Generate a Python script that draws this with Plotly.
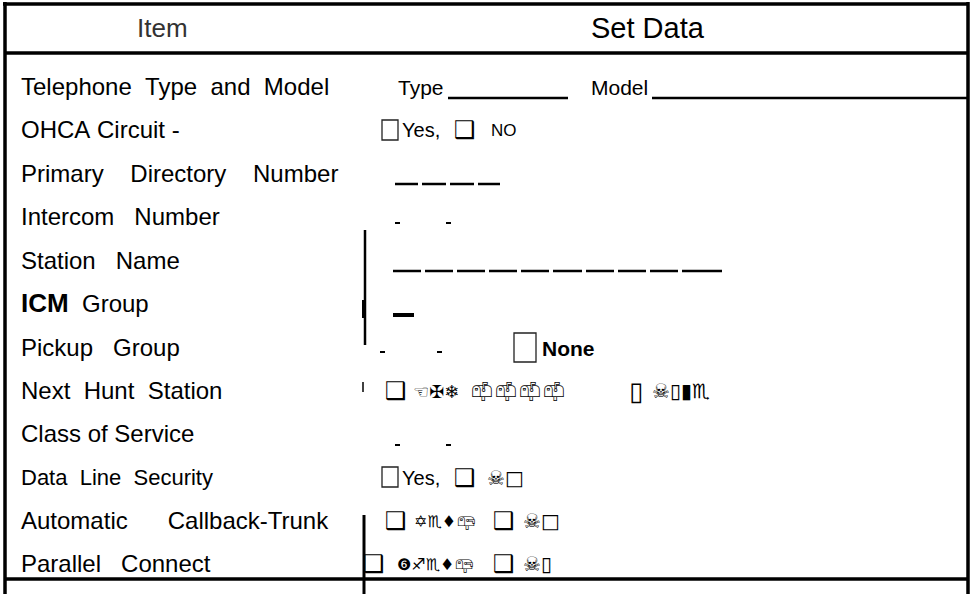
import plotly.graph_objects as go

W, H = 971, 594
NB = "\u00a0"

def gap(n):
    return NB * n

# ---- data (form content) ----
header_labels = ["Item", "Set Data"]
item_words = [
    (["Telephone", "Type", "and", "Model"], [2, 2, 2]),
    (["OHCA", "Circuit", "-"], [1, 1]),
    (["Primary", "Directory", "Number"], [4, 4]),
    (["Intercom", "Number"], [3]),
    (["Station", "Name"], [3]),
    (["<b><span style='font-size:26px'>ICM</span></b>", "Group"], [2]),
    (["Pickup", "Group"], [3]),
    (["Next", "Hunt", "Station"], [2, 2]),
    (["Class", "of", "Service"], [1, 1]),
    (["Data", "Line", "Security"], [2, 2]),
    (["Automatic", "Callback-Trunk"], [6]),
    (["Parallel", "Connect"], [3]),
]
row_sizes = [24, 24, 24, 24, 24, 24, 24, 24, 24, 22, 24, 24]
row_y = [86, 129, 173, 216, 260, 303, 347, 390, 433, 477, 520, 563]

# set-data texts: (row index, x, text, font size)
set_texts = [
    (0, 396, "Type", 21),
    (0, 589, "Model", 21),
    (1, 400, "Yes,", 20),
    (1, 452, "\u2751", 24),
    (1, 489, "NO", 17),
    (6, 540, "<b>None</b>", 21),
    (7, 383, "\u2751", 24),
    (7, 411, "\u261c\u2720\u2744", 18),
    (7, 468, "\U0001F4EB\uFE0E\U0001F4EB\uFE0E\U0001F4EB\uFE0E\U0001F4EB\uFE0E", 19),
    (7, 627, "\u25af", 26),
    (7, 650, "\u2620\u25af\u25ae\u264f", 20),
    (9, 400, "Yes,", 20),
    (9, 452, "\u2751", 24),
    (9, 485, "\u2620\u25a1", 20),
    (10, 383, "\u2751", 24),
    (10, 412, "\u2721\u264f\u2666\U0001F4EA\uFE0E", 16),
    (10, 491, "\u2751", 24),
    (10, 521, "\u2620\u25a1", 20),
    (11, 361, "\u2751", 24),
    (11, 395, "\u277b\u2650\u264f\u2666\U0001F4EA\uFE0E", 16),
    (11, 491, "\u2751", 24),
    (11, 521, "\u2620\u25af", 20),
]

# check boxes: (row index, x0, x1, y0, y1)
check_boxes = [(1, 382, 398, 120, 140), (6, 514, 536, 333, 362), (9, 382, 398, 467, 487)]

# underline / dash segments: (y, x0, x1, width)
dash_segments = [
    (98, 448, 568, 2.5), (98, 652, 968, 2.5),
    (184, 395, 418, 2.5), (184, 422, 446, 2.5), (184, 450, 474, 2.5), (184, 478, 500, 2.5),
    (223, 395, 400, 2), (223, 446, 451, 2),
    (271, 393, 421, 2.5), (271, 425, 453, 2.5), (271, 457, 485, 2.5), (271, 489, 517, 2.5),
    (271, 521, 549, 2.5), (271, 553, 582, 2.5), (271, 586, 614, 2.5), (271, 618, 646, 2.5),
    (271, 650, 678, 2.5), (271, 682, 722, 2.5),
    (315, 393, 414, 4),
    (352, 380, 385, 2), (352, 437, 442, 2),
    (445, 395, 400, 2), (445, 446, 451, 2),
]

# ---- figure ----
fig = go.Figure()
shapes = []

def line(x0, y0, x1, y1, w=3.5):
    shapes.append(dict(type="line", x0=x0, y0=y0, x1=x1, y1=y1, xref="x", yref="y",
                       line=dict(color="black", width=w)))

# outer frame
line(3, 4, 968, 4)
line(5, 2, 5, 594)
line(968, 2, 968, 594)
line(5, 53, 968, 53)
line(5, 579, 968, 579)
# partial vertical lines of the scanned form
line(365, 230, 365, 345, 2.5)
line(364, 300, 364, 318, 4)
line(363, 382, 363, 392, 1.5)
line(364, 515, 364, 594, 3)

for (y, x0, x1, w) in dash_segments:
    line(x0, y, x1, y, w)

for (r, x0, x1, y0, y1) in check_boxes:
    shapes.append(dict(type="rect", x0=x0, x1=x1, y0=y0, y1=y1, xref="x", yref="y",
                       line=dict(color="#222", width=1.3)))

annotations = []
body_font = "Liberation Sans, Arial, Helvetica, sans-serif"
sym_font = "DejaVu Sans, Noto Sans, sans-serif"

annotations.append(dict(x=162, y=28, text=header_labels[0], showarrow=False,
                        xanchor="center", yanchor="middle",
                        font=dict(family=body_font, size=26, color="#333")))
annotations.append(dict(x=648, y=28, text=header_labels[1], showarrow=False,
                        xanchor="center", yanchor="middle",
                        font=dict(family=body_font, size=29, color="black")))

for (words, gaps), y, s in zip(item_words, row_y, row_sizes):
    txt = words[0]
    for w, g in zip(words[1:], gaps):
        txt += gap(g) + w
    annotations.append(dict(x=19, y=y, text=txt, showarrow=False, xanchor="left",
                            yanchor="middle", font=dict(family=body_font, size=s, color="black")))

for (r, x, t, s) in set_texts:
    fam = sym_font if any(ord(c) > 0x2000 for c in t) else body_font
    annotations.append(dict(x=x, y=row_y[r] + 1, text=t, showarrow=False, xanchor="left",
                            yanchor="middle", font=dict(family=fam, size=s, color="black")))

fig.update_layout(
    width=W, height=H,
    margin=dict(l=0, r=0, t=0, b=0),
    paper_bgcolor="white", plot_bgcolor="white",
    xaxis=dict(range=[0, W], visible=False, fixedrange=True),
    yaxis=dict(range=[H, 0], visible=False, fixedrange=True),
    shapes=shapes, annotations=annotations, showlegend=False,
)

fig.write_html("out.html", config={"displayModeBar": False},
               post_script="document.body.style.margin='0px';document.body.style.overflow='hidden';")
